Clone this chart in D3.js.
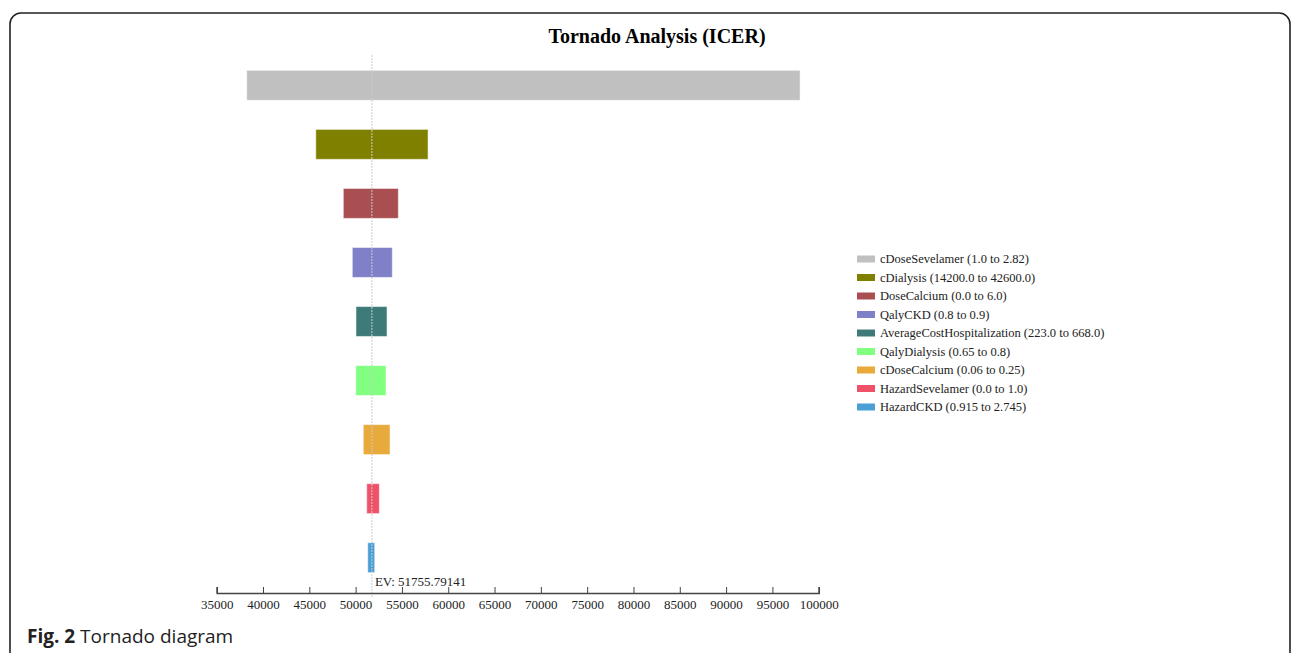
<!DOCTYPE html>
<html>
<head>
<meta charset="utf-8">
<script src="https://cdn.jsdelivr.net/npm/d3@7"></script>
<style>
  body { margin: 0; background: #fff; }
  svg { display: block; }
  .axis path, .axis line { stroke: #444; }
  .axis text { font-family: "Liberation Serif", "Times New Roman", serif; font-size: 13px; fill: #222; }
  .legend text { font-family: "Liberation Serif", "Times New Roman", serif; font-size: 12.5px; fill: #222; }
</style>
</head>
<body>
<svg width="1292" height="653"></svg>
<script>
// data
var labels = ["cDoseSevelamer (1.0 to 2.82)", "cDialysis (14200.0 to 42600.0)", "DoseCalcium (0.0 to 6.0)",
    "QalyCKD (0.8 to 0.9)", "AverageCostHospitalization (223.0 to 668.0)", "QalyDialysis (0.65 to 0.8)",
    "cDoseCalcium (0.06 to 0.25)", "HazardSevelamer (0.0 to 1.0)", "HazardCKD (0.915 to 2.745)"];
var lows = [38240, 45700, 48670, 49640, 50040, 50010, 50830, 51200, 51310];
var highs = [97990, 57820, 54610, 53960, 53390, 53280, 53715, 52560, 52060];
var colors = ["#c0c0c0", "#808000", "#a94f52", "#8080c8", "#3e7b78", "#80ff80", "#e7aa3b", "#ef5168", "#4a9fd6"];
var ev = 51755.79141;
var tickVals = [35000, 40000, 45000, 50000, 55000, 60000, 65000, 70000, 75000, 80000, 85000, 90000, 95000, 100000];

var svg = d3.select("svg");

// frame
svg.append("rect")
    .attr("x", 10).attr("y", 13)
    .attr("width", 1280).attr("height", 700)
    .attr("rx", 11)
    .attr("fill", "none")
    .attr("stroke", "#222")
    .attr("stroke-width", 1.6);

var x = d3.scaleLinear().domain([35000, 100000]).range([216.7, 818.7]);
var y = d3.scaleBand().domain(d3.range(labels.length)).range([55, 588]).paddingInner(0.493).paddingOuter(0.26);

svg.append("text")
    .attr("x", 657).attr("y", 43)
    .attr("text-anchor", "middle")
    .style("font-family", "'Liberation Serif', 'Times New Roman', serif")
    .style("font-weight", "bold")
    .style("font-size", "20px")
    .text("Tornado Analysis (ICER)");

svg.selectAll(".bar")
    .data(labels)
    .enter().append("rect")
    .attr("class", "bar")
    .attr("x", function (d, i) { return x(lows[i]); })
    .attr("y", function (d, i) { return y(i); })
    .attr("width", function (d, i) { return x(highs[i]) - x(lows[i]); })
    .attr("height", y.bandwidth())
    .attr("fill", function (d, i) { return colors[i]; })
    .attr("stroke", "#fff")
    .attr("stroke-opacity", 0.5)
    .attr("stroke-width", 1);

// EV line
svg.append("line")
    .attr("x1", x(ev)).attr("x2", x(ev))
    .attr("y1", 55).attr("y2", 598)
    .attr("stroke", "#ccc")
    .attr("stroke-width", 1)
    .attr("stroke-dasharray", "2,1");

svg.append("text")
    .attr("x", x(ev) + 3).attr("y", 586)
    .style("font-family", "'Liberation Serif', 'Times New Roman', serif")
    .style("font-size", "13px")
    .attr("fill", "#222")
    .text("EV: " + ev);

var axis = svg.append("g")
    .attr("class", "axis")
    .attr("transform", "translate(0,593)")
    .call(d3.axisBottom(x).tickValues(tickVals).tickSize(-6).tickSizeOuter(-6).tickPadding(7).tickFormat(d3.format("d")));
axis.select(".domain").attr("stroke-width", 1.6);

// legend
var legend = svg.append("g").attr("class", "legend")
    .attr("transform", "translate(857,259)");
var rows = legend.selectAll("g")
    .data(labels)
    .enter().append("g")
    .attr("transform", function (d, i) { return "translate(0," + (i * 18.5) + ")"; });
rows.append("rect")
    .attr("x", 0).attr("y", -3.5)
    .attr("width", 18).attr("height", 7)
    .attr("fill", function (d, i) { return colors[i]; });
rows.append("text")
    .attr("x", 23).attr("y", 4)
    .text(function (d) { return d; });

// caption
var cap = svg.append("text")
    .attr("x", 27).attr("y", 643)
    .style("font-family", "'Open Sans', 'Noto Sans', sans-serif")
    .style("font-size", "19px")
    .attr("fill", "#222");
cap.append("tspan").style("font-weight", "bold").text("Fig. 2");
cap.append("tspan").text(" Tornado diagram");
</script>
</body>
</html>
